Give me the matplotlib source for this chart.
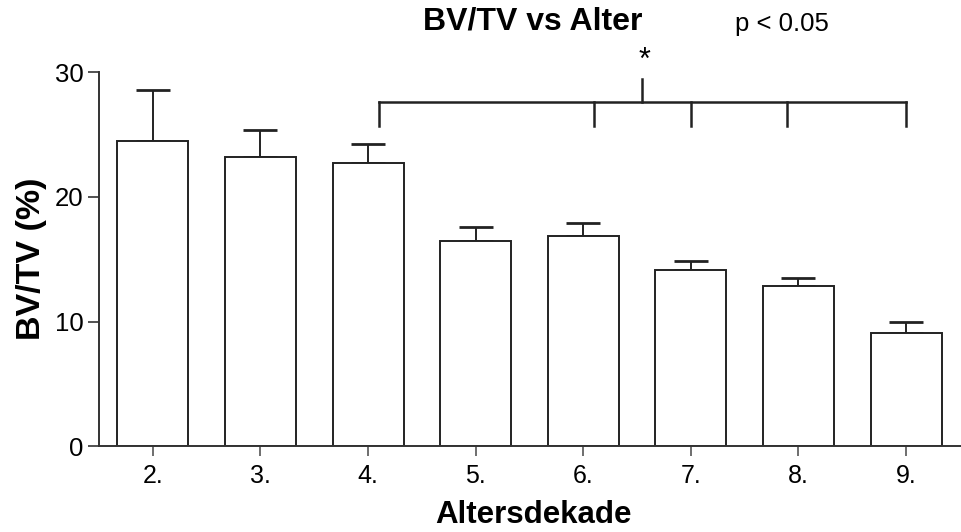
import matplotlib
matplotlib.use("Agg")
import matplotlib.pyplot as plt
import numpy as np

plt.rcParams['font.family'] = ['Liberation Sans', 'DejaVu Sans']

categories = ["2.", "3.", "4.", "5.", "6.", "7.", "8.", "9."]
means = [24.5, 23.15, 22.7, 16.47, 16.85, 14.1, 12.84, 9.05]
err_upper = [4.05, 2.2, 1.5, 1.13, 1.07, 0.77, 0.65, 0.93]

fig = plt.figure(figsize=(9.62, 5.32), dpi=100)
ax = fig.add_axes([99/962, (532-446.3)/532, (962-99)/962, (446.3-72)/532 * 1.0])
x = np.arange(len(categories))
ax.bar(x, means, width=0.66, color='white', edgecolor='#222222', linewidth=1.4, zorder=2)
ax.errorbar(x, means, yerr=[np.zeros(len(means)), err_upper], fmt='none',
            ecolor='#222222', elinewidth=1.4, capsize=12, capthick=2, zorder=1)

ax.set_xlim(-0.5, 7.52)
ax.set_ylim(0, 30)
ax.set_yticks([0, 10, 20, 30])
ax.set_xticks(x)
ax.set_xticklabels(categories)
for s in ['top', 'right']:
    ax.spines[s].set_visible(False)
for s in ['left', 'bottom']:
    ax.spines[s].set_color('#333333')
    ax.spines[s].set_linewidth(1.4)
ax.tick_params(axis='y', length=8, width=1.2, color='#333333', labelsize=18.5, pad=3)
ax.tick_params(axis='x', length=7.5, width=1.2, color='#555555', labelsize=18, pad=5)

ax.set_ylabel("BV/TV (%)", fontsize=24.5, fontweight='bold', labelpad=6)
fig.text(533/962, 1 - 515/532, "Altersdekade", ha='center', va='center',
         fontsize=22.5, fontweight='bold')

# significance bracket
yb, ytick, ytop = 27.6, 25.7, 29.4
xs = [2.1, 4.1, 5.0, 5.89, 7.0]
ax.plot([xs[0], xs[-1]], [yb, yb], color='#222222', lw=1.8, clip_on=False)
for xv in xs:
    ax.plot([xv, xv], [ytick, yb], color='#222222', lw=1.8, clip_on=False)
ax.plot([4.55, 4.55], [yb, ytop], color='#222222', lw=1.8, clip_on=False)
ax.text(4.57, 30.9, "*", ha='center', va='center', fontsize=22, clip_on=False)

fig.text(533/962, 1 - 22/532, "BV/TV vs Alter", ha='center', va='center',
         fontsize=23, fontweight='bold')
fig.text(782/962, 1 - 24/532, "p < 0.05", ha='center', va='center', fontsize=18.5)

fig.savefig("out.png", dpi=100)
